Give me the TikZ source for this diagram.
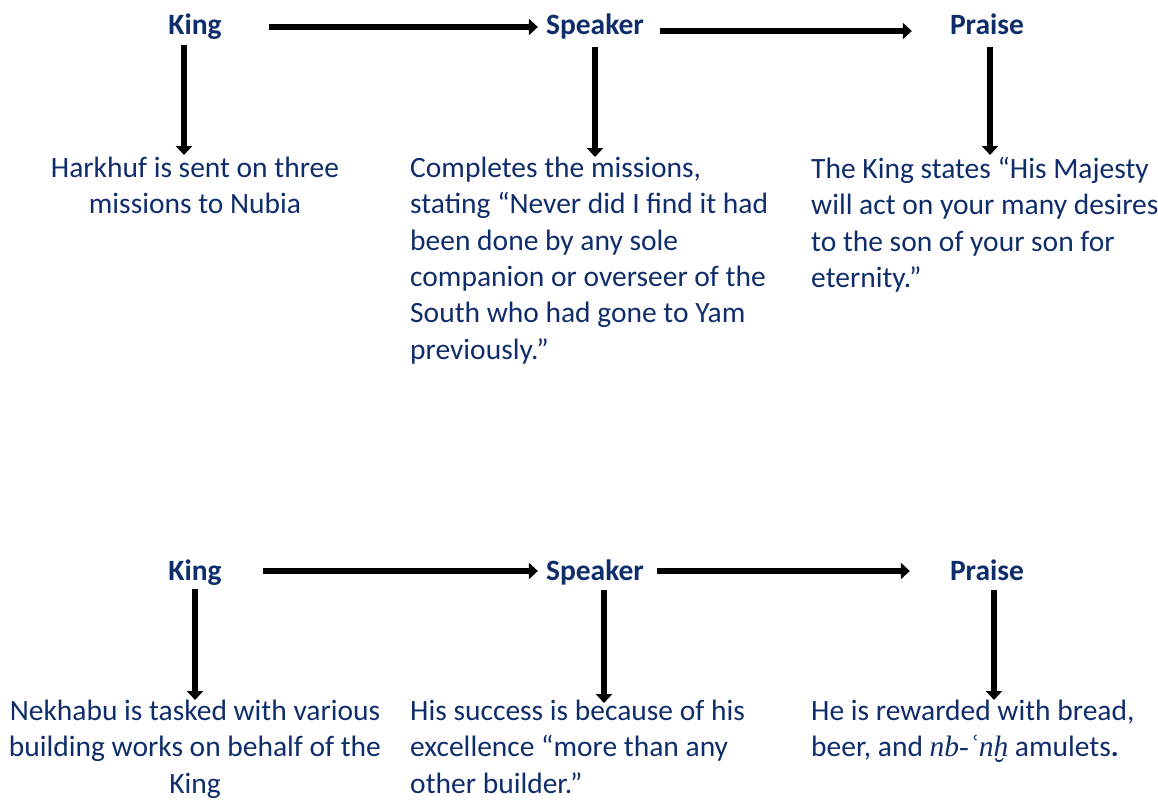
\documentclass[tikz,border=0pt]{standalone}
\usepackage{fontspec}
\setmainfont{Carlito}
\newfontfamily\translit{Liberation Serif}
\usetikzlibrary{arrows.meta}
\definecolor{inkblue}{HTML}{102D6B}

\begin{document}
\begin{tikzpicture}[x=1pt, y=-1pt,
      every node/.style={inner sep=0pt, text=inkblue, font=\fontsize{29.5}{36.3}\selectfont},
      head/.style={anchor=base, font=\fontsize{29.5}{36}\selectfont\bfseries},
      story/.style={align=left, anchor=north west},
      arr/.style={-{Triangle[length=9pt, width=16pt]}, line width=6pt, black}]
    \useasboundingbox (0,0) rectangle (1158,800);
    % Harkhuf
    \node[head] (king1) at (195,35) {King};
    \node[head] (speaker1) at (595,35) {Speaker};
    \node[head] (praise1) at (987,35) {Praise};
    \node[align=center, anchor=north] (deed1) at (195,157) {Harkhuf is sent on three\\missions to Nubia};
    \node[story] (claim1) at (410,157) {Completes the missions,\\stating “Never did I find it had\\been done by any sole\\companion or overseer of the\\South who had gone to Yam\\previously.”};
    \node[story] (reward1) at (811,157) {The King states “His Majesty\\will act on your many desires\\to the son of your son for\\eternity.”};
    \draw[arr] ([xshift=47pt,yshift=8pt]king1.base east) -- ([xshift=-8pt,yshift=8pt]speaker1.base west);
    \draw[arr] ([xshift=16pt,yshift=4pt]speaker1.base east) -- ([xshift=-38pt,yshift=4pt]praise1.base west);
    \draw[arr] ([xshift=-11pt,yshift=-10pt]king1.base) -- ([xshift=-11pt,yshift=2pt]king1.base |- deed1.north);
    \draw[arr] ([yshift=-12pt]speaker1.base) -- ([yshift=0pt]speaker1.base |- claim1.north);
    \draw[arr] ([xshift=3pt,yshift=-12pt]praise1.base) -- ([xshift=3pt,yshift=2pt]praise1.base |- reward1.north);
    % Nekhabu
    \node[head] (king2) at (195,580) {King};
    \node[head] (speaker2) at (595,580) {Speaker};
    \node[head] (praise2) at (987,580) {Praise};
    \node[align=center, anchor=north] (deed2) at (195,700) {Nekhabu is tasked with various\\building works on behalf of the\\King};
    \node[story] (claim2) at (410,700) {His success is because of his\\excellence “more than any\\other builder.”};
    \node[story] (reward2) at (811,700) {He is rewarded with bread,\\beer, and {\translit\itshape nb-ʿnḫ} amulets\textbf{.}};
    \draw[arr] ([xshift=41pt,yshift=9pt]king2.base east) -- ([xshift=-8pt,yshift=9pt]speaker2.base west);
    \draw[arr] ([xshift=13pt,yshift=9pt]speaker2.base east) -- ([xshift=-40pt,yshift=9pt]praise2.base west);
    \draw[arr] ([yshift=-9pt]king2.base) -- ([yshift=0pt]king2.base |- deed2.north);
    \draw[arr] ([xshift=9pt,yshift=-10pt]speaker2.base) -- ([xshift=9pt,yshift=-3pt]speaker2.base |- claim2.north);
    \draw[arr] ([xshift=7pt,yshift=-10pt]praise2.base) -- ([xshift=7pt,yshift=0pt]praise2.base |- reward2.north);
  \end{tikzpicture}
\end{document}
